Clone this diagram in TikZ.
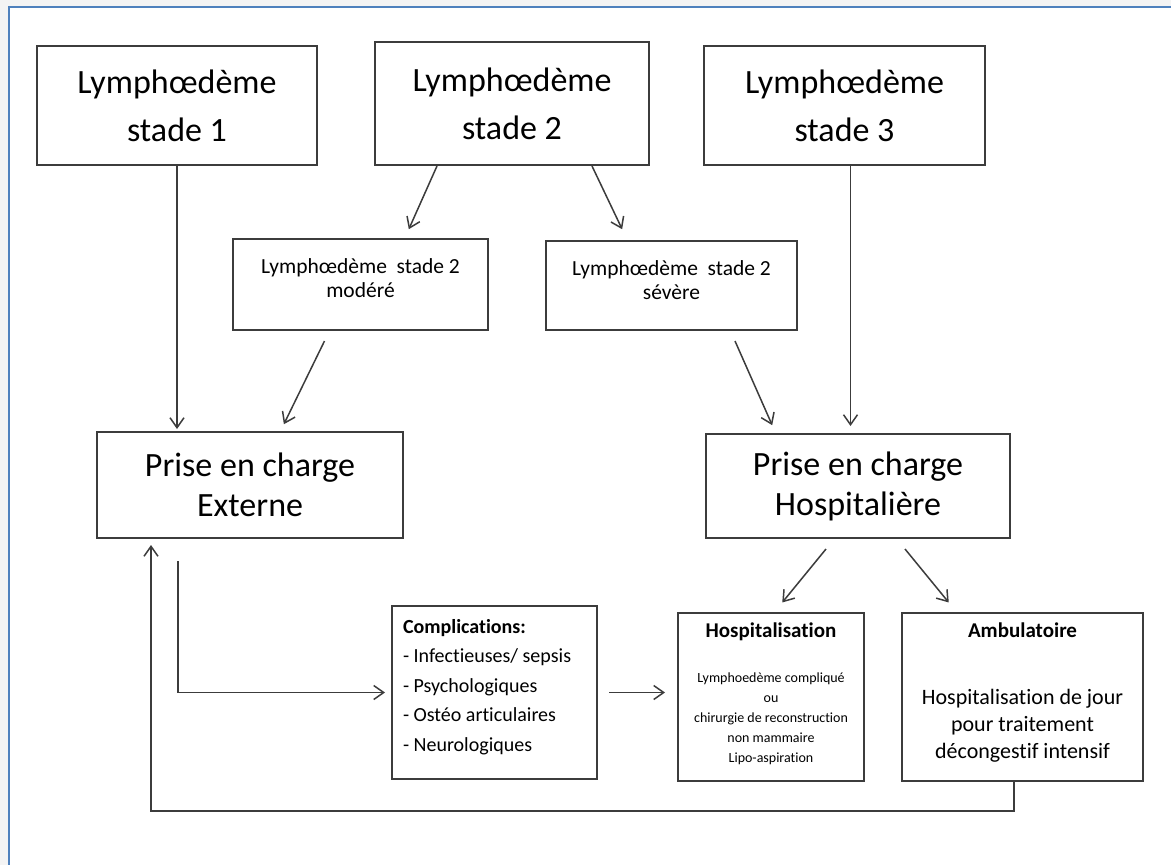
\documentclass[tikz,border=0pt]{standalone}
\usepackage{fontspec}
\setmainfont{Carlito}[Ligatures=CommonOff]
\usetikzlibrary{arrows.meta,calc}

\definecolor{linea}{HTML}{3C3C3C}
\definecolor{marco}{HTML}{4F81BD}
\definecolor{fondo}{HTML}{F4F4F4}

\begin{document}
\begin{tikzpicture}[x=1pt, y=-1pt, >={Straight Barb[length=10pt,width=14pt]},
  caja/.style={draw=linea, line width=2pt, inner sep=0pt, fill=white},
  grande/.style={caja, align=center, font=\fontsize{34}{48}\selectfont},
  prise/.style={caja, align=center, font=\fontsize{34}{40}\selectfont},
  flecha/.style={->, draw=linea, line width=1.5pt, shorten >=2pt}]

  % Fondo y marco
  \useasboundingbox (0,0) rectangle (1171,865);
  \fill[fondo] (0,0) rectangle (1171,865);
  \fill[white] (9,7) rectangle (1171,865);
  \draw[marco, line width=2.5pt] (9,865) -- (9,7) -- (1171,7);

  % Estadios
  \node[grande, minimum width=280pt, minimum height=119pt] (estadio1) at (177,105.5) {Lymphœdème\\stade 1};
  \node[grande, minimum width=274pt, minimum height=123pt] (estadio2) at (512,103.5) {Lymphœdème\\stade 2};
  \node[grande, minimum width=281pt, minimum height=119pt] (estadio3) at (844.5,105.5) {Lymphœdème\\stade 3};

  % Estadio 2: moderado / severo
  \node[caja] (moderado) at (360.5,284.5) {\parbox[c][91pt][t]{255pt}{\centering\fontsize{21.5}{24}\selectfont
    \rule{0pt}{34pt}Lymphœdème\ \ stade 2\\ modéré}};
  \node[caja] (severo) at (671.5,285.5) {\parbox[c][89pt][t]{251pt}{\centering\fontsize{21.5}{24}\selectfont
    \rule{0pt}{34pt}Lymphœdème\ \ stade 2\\ sévère}};

  % Prise en charge
  \node[prise, minimum width=306pt, minimum height=106pt] (externe) at (250,485) {Prise en charge\\Externe};
  \node[prise, minimum width=304pt, minimum height=104pt] (hospitaliere) at (858,486) {Prise en charge\\Hospitalière};

  % Cajas de abajo
  \node[caja] (complications) at (494.5,692.5) {\parbox[c][173pt][t]{205pt}{\raggedright\leftskip=11pt
    \fontsize{20}{29.5}\selectfont
    \rule{0pt}{27pt}\textbf{Complications:}\\- Infectieuses/ sepsis\\- Psychologiques\\- Ostéo articulaires\\- Neurologiques}};
  \node[caja] (hospitalisation) at (771,697) {\parbox[c][168pt][t]{186pt}{\centering\fontsize{14}{20}\selectfont
    \rule{0pt}{24pt}{\fontsize{21}{20}\selectfont\bfseries Hospitalisation}\\[25pt]
    Lymphoedème compliqué\\ ou\\ chirurgie de reconstruction\\ non mammaire\\ Lipo-aspiration}};
  \node[caja] (ambulatoire) at (1022.5,697) {\parbox[c][168pt][t]{241pt}{\centering\fontsize{22}{27}\selectfont
    \rule{0pt}{24pt}{\fontsize{21}{27}\selectfont\bfseries Ambulatoire}\\[40pt]
    Hospitalisation de jour\\ pour traitement\\ décongestif intensif}};

  % Flechas
  \draw[flecha] (estadio1.south) -- (estadio1.south |- externe.north);
  \draw[flecha] ($(estadio2.south)+(-75,0)$) -- ($(moderado.north)+(47.5,-7)$);
  \draw[flecha] ($(estadio2.south)+(80,0)$) -- ($(severo.north)+(-48.5,-9)$);
  \draw[flecha] ($(moderado.south)+(-36,10)$) -- ($(externe.north)+(33,-5)$);
  \draw[flecha] ($(severo.south)+(63.5,10)$) -- ($(hospitaliere.north)+(-85,-6)$);
  \draw[flecha] ($(estadio3.south)+(6,0)$) -- ($(estadio3.south |- hospitaliere.north)+(6,-5)$);
  \draw[flecha] ($(hospitaliere.south)+(-32,10)$) -- ($(hospitalisation.north)+(10,-8)$);
  \draw[flecha] ($(hospitaliere.south)+(47,10)$) -- ($(ambulatoire.north)+(-72.5,-8)$);
  \draw[flecha] ($(externe.south)+(-72,22)$) |- ($(complications.west)+(-4,0)$);
  \draw[flecha] ($(complications.east)+(11,0)$) -- ($(complications.east -| hospitalisation.west)+(-10,0)$);
  \draw[flecha] ($(ambulatoire.south)+(-8.5,0)$) |- ($(externe.south)+(-99,272)$) -- ($(externe.south)+(-99,4)$);
\end{tikzpicture}
\end{document}
